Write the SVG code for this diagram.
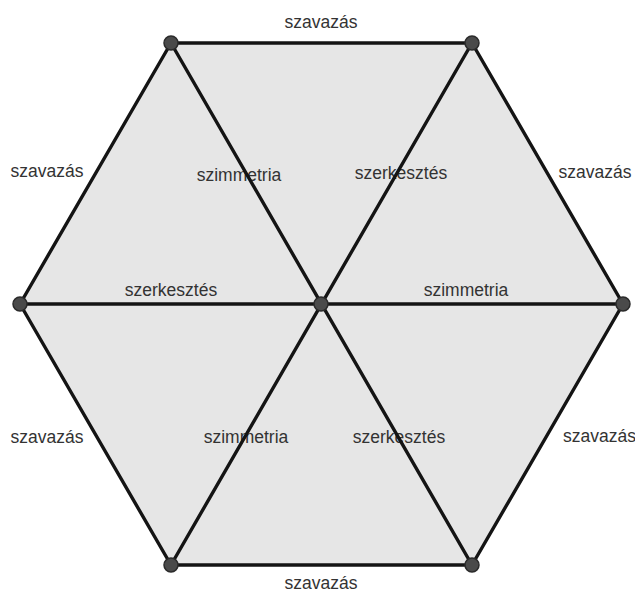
<svg xmlns="http://www.w3.org/2000/svg" width="635" height="594" viewBox="0 0 635 594">
<style>
.lbl{font-family:"Liberation Sans",Arial,sans-serif;font-size:17.5px;fill:#333;text-anchor:middle}
.edge{stroke:#141414;stroke-width:3.4;fill:none;stroke-linecap:round}
.dot{fill:#4a4a4a;stroke:#2a2a2a;stroke-width:1.5}
</style>
<rect width="635" height="594" fill="#fff"/>
<polygon points="171,43 472,43 623,304 472,565 171,565 20,304" fill="#e6e6e6"/>
<g id="labels">
<text class="lbl" x="321" y="28">szavazás</text>
<text class="lbl" x="47" y="177">szavazás</text>
<text class="lbl" x="239" y="181">szimmetria</text>
<text class="lbl" x="401" y="179">szerkesztés</text>
<text class="lbl" x="595" y="178">szavazás</text>
<text class="lbl" x="171" y="296">szerkesztés</text>
<text class="lbl" x="466" y="296">szimmetria</text>
<text class="lbl" x="47" y="443">szavazás</text>
<text class="lbl" x="246" y="443">szimmetria</text>
<text class="lbl" x="399" y="443">szerkesztés</text>
<text class="lbl" x="563" y="442" style="text-anchor:start">szavazás</text>
<text class="lbl" x="321" y="589">szavazás</text>
</g>
<g id="connectors">
<polygon class="edge" points="171,43 472,43 623,304 472,565 171,565 20,304" stroke-linejoin="round"/>
<line class="edge" x1="171" y1="43" x2="472" y2="565"/>
<line class="edge" x1="472" y1="43" x2="171" y2="565"/>
<line class="edge" x1="20" y1="304" x2="623" y2="304"/>
</g>
<g id="v-top-left"><circle class="dot" cx="171" cy="43" r="7"/></g>
<g id="v-top-right"><circle class="dot" cx="472" cy="43" r="7"/></g>
<g id="v-right"><circle class="dot" cx="623" cy="304" r="7"/></g>
<g id="v-bottom-right"><circle class="dot" cx="472" cy="565" r="7"/></g>
<g id="v-bottom-left"><circle class="dot" cx="171" cy="565" r="7"/></g>
<g id="v-left"><circle class="dot" cx="20" cy="304" r="7"/></g>
<g id="v-center"><circle class="dot" cx="321" cy="304" r="7"/></g>
</svg>
